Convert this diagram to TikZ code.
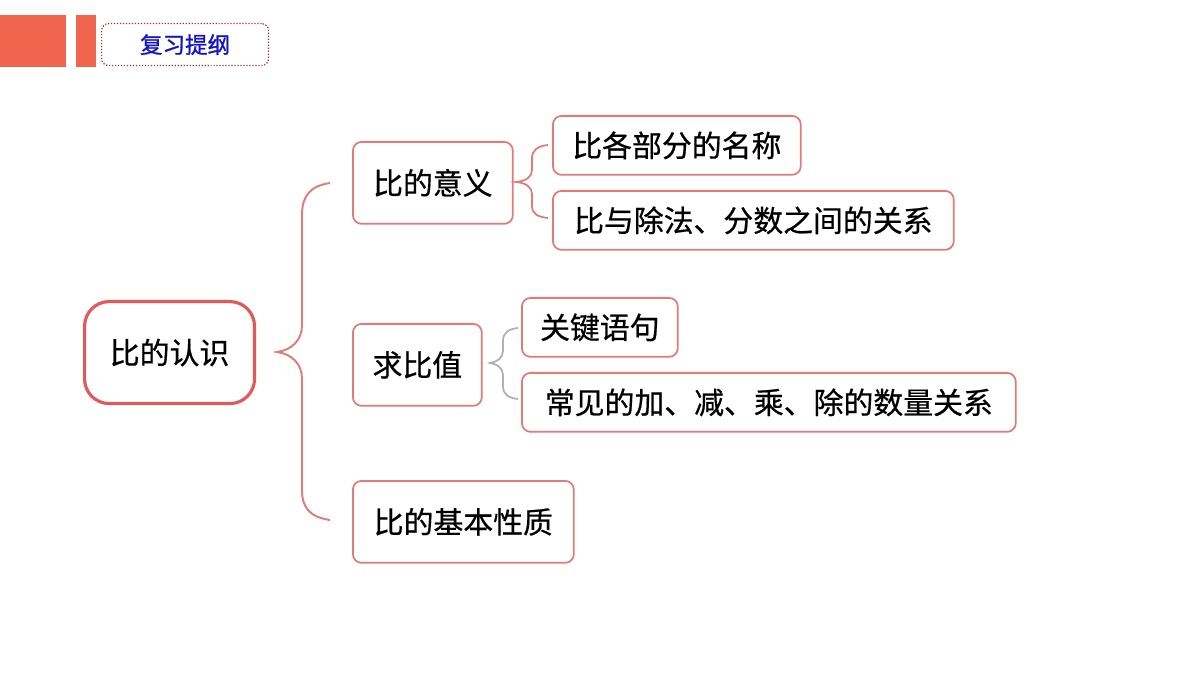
\documentclass[tikz,border=0pt]{standalone}
\usepackage{fontspec}
\setmainfont{Noto Sans CJK SC}
\newfontfamily\cjk[FakeBold=0.6]{Noto Sans CJK SC}
\newfontfamily\cjkb[FakeBold=1.2]{Noto Sans CJK SC}
\definecolor{orng}{HTML}{F0654D}
\definecolor{boxred}{HTML}{E37A7A}
\definecolor{mainred}{HTML}{E05A5A}
\definecolor{titleblue}{HTML}{1414C8}
\definecolor{dotred}{HTML}{A03040}
\definecolor{bracegray}{HTML}{B0B0B0}
\begin{document}
\begin{tikzpicture}[x=0.02cm,y=-0.02cm,
  box/.style={draw=boxred,line width=1pt,rounded corners=5pt,fill=white,
    font=\cjk\fontsize{17pt}{20pt}\selectfont,inner sep=0pt,anchor=north west},
  mainbox/.style={draw=mainred,line width=1.8pt,rounded corners=14pt,fill=white,
    font=\cjk\fontsize{17pt}{20pt}\selectfont,inner sep=0pt,anchor=north west},
  redbrace/.style={draw=boxred,line width=1pt},
  graybrace/.style={draw=bracegray,line width=1pt},
  bigbrace/.style={draw=boxred,line width=1.1pt}]
\useasboundingbox (0,0) rectangle (1200,675);
% header
\fill[orng] (0,15) rectangle (66,67);
\fill[orng] (76,15) rectangle (96,67);
\node[draw=dotred,densely dotted,line width=0.7pt,rounded corners=4pt,anchor=north west,
  minimum width=3.34cm,minimum height=0.84cm,inner sep=0pt,
  font=\cjkb\fontsize{12.8pt}{14pt}\selectfont,text=titleblue] (title) at (101,23) {复习提纲};
% main
\node[mainbox,minimum width=3.4cm,minimum height=2.04cm] (main) at (83,300) {比的认识};
% level 1
\node[box,minimum width=3.2cm,minimum height=1.64cm] (yiyi) at (352,141) {比的意义};
\node[box,minimum width=2.58cm,minimum height=1.64cm] (qiu) at (352,323) {求比值};
\node[box,minimum width=4.42cm,minimum height=1.64cm] (xingzhi) at (352,480) {比的基本性质};
% level 2
\node[box,minimum width=4.96cm,minimum height=1.18cm] (mc) at (552,115) {比各部分的名称};
\node[box,minimum width=8.02cm,minimum height=1.18cm] (gx) at (552,190) {比与除法、分数之间的关系};
\node[box,minimum width=3.12cm,minimum height=1.18cm] (gj) at (521,297) {关键语句};
\node[box,minimum width=9.88cm,minimum height=1.18cm] (cj) at (521,372) {常见的加、减、乘、除的数量关系};
% big brace
\coordinate (btip) at (277,352);
\draw[bigbrace] (330,183) .. controls (310,186) and (302,196) .. (302,215)
  -- (302,325) .. controls (302,340) and (292,350) .. (btip)
  .. controls (292,354) and (302,364) .. (302,379)
  -- (302,490) .. controls (302,508) and (310,517) .. (330,520);
% small brace 1
\coordinate (s1tip) at (516,182);
\draw[redbrace] (548,145) .. controls (538,146) and (532,150) .. (532,158)
  -- (532,170) .. controls (532,177) and (526,181) .. (s1tip)
  .. controls (526,183) and (532,187) .. (532,194)
  -- (532,206) .. controls (532,214) and (538,217) .. (548,218);
% small brace 2
\coordinate (s2tip) at (490,363);
\draw[graybrace] (518,328) .. controls (508,329) and (503,333) .. (503,341)
  -- (503,351) .. controls (503,358) and (497,362) .. (s2tip)
  .. controls (497,364) and (503,368) .. (503,375)
  -- (503,386) .. controls (503,394) and (508,398) .. (518,399);
\end{tikzpicture}
\end{document}
